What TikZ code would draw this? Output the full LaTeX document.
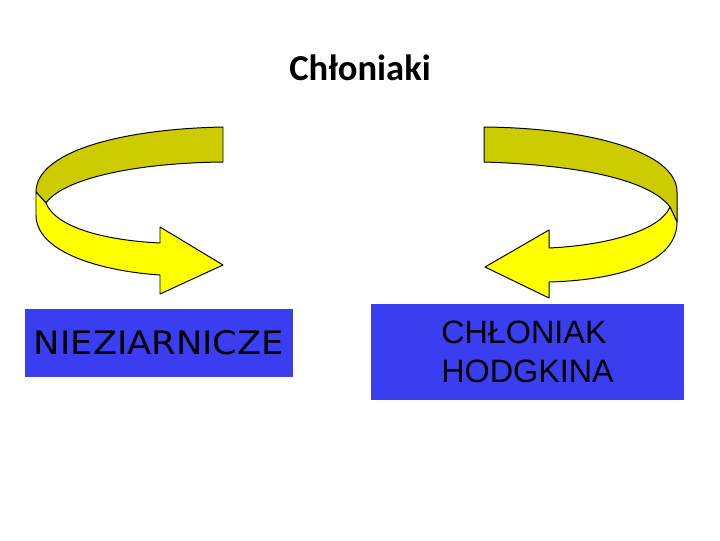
\documentclass[tikz,border=0pt]{standalone}
\usepackage{fontspec}
\setmainfont{Liberation Sans}
\newfontfamily\titlefont{Carlito}
\newfontfamily\roundfont{DejaVu Sans}
\usetikzlibrary{positioning}
\definecolor{boxblue}{RGB}{58,62,240}
\definecolor{bandback}{RGB}{204,204,0}
\definecolor{bandfront}{RGB}{255,255,0}
\tikzstyle{band} = [draw=black, line width=0.7pt, line join=round]
\tikzstyle{group} = [fill=boxblue, inner sep=0pt, text=black]

\begin{document}
\begin{tikzpicture}[x=0.025cm, y=-0.025cm]
    \useasboundingbox (0,0) rectangle (720,540);

    % Title
    \node[font=\titlefont\bfseries\fontsize{26}{30}\selectfont] (title) at (360,68) {Chłoniaki};

    % Left curved arrow (back band, then front band)
    \draw[band, fill=bandback] (223,127) .. controls (120,129) and (36,152) .. (36,192)
        -- (46,203) .. controls (62,180) and (130,163) .. (223,162) -- cycle;
    \draw[band, fill=bandfront] (36,192) -- (36,215) .. controls (36,252) and (100,271) .. (160,275)
        -- (160,294) -- (223,265) -- (160,227) -- (160,243)
        .. controls (100,240) and (55,226) .. (46,203) -- cycle;

    % Right curved arrow (back band, then front band)
    \draw[band, fill=bandback] (484,127) .. controls (590,128) and (677,152) .. (677,192)
        -- (677,222) -- (670,207) .. controls (650,180) and (580,165) .. (484,162) -- cycle;
    \draw[band, fill=bandfront] (670,207) -- (677,222) .. controls (677,262) and (620,280) .. (549,282)
        -- (549,298) -- (485,267) -- (549,230) -- (549,248)
        .. controls (610,245) and (660,230) .. (670,207) -- cycle;

    % Boxes
    \node[group, minimum width=6.7cm, minimum height=1.7cm,
          font=\roundfont\fontsize{23}{27}\selectfont] (nonhodgkin) at (159,343) {\scalebox{1.09}[1]{NIEZIARNICZE}};
    \node[group, minimum width=7.825cm, minimum height=2.4cm, align=left,
          font=\fontsize{23}{28}\selectfont] (hodgkin) at (527.5,352) {CHŁONIAK\\HODGKINA};
\end{tikzpicture}
\end{document}
